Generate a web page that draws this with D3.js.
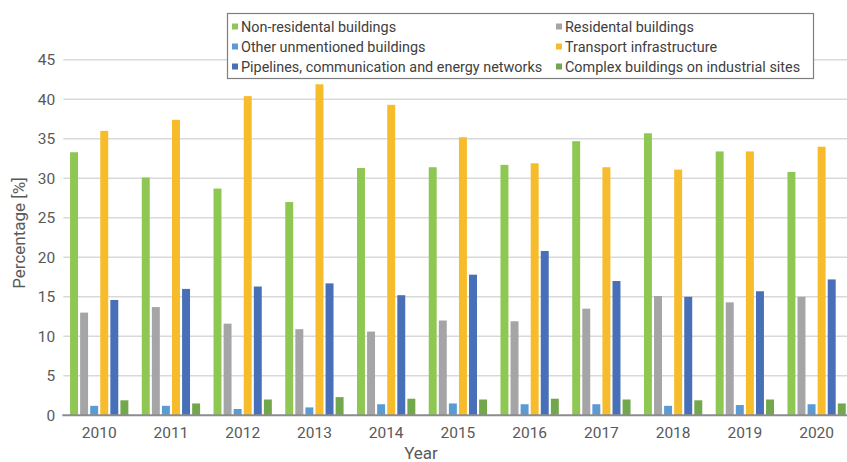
<!DOCTYPE html>
<html>
<head>
<meta charset="utf-8">
<script src="https://cdn.jsdelivr.net/npm/d3@7"></script>
<style>
  html, body { margin: 0; padding: 0; background: #ffffff; }
  svg { display: block; font-family: Roboto, "Noto Sans", sans-serif; }
</style>
</head>
<body>
<svg id="chart" width="847" height="462"></svg>
<script>
// Share of construction output by building type, 2010–2020 (%)
const years = ["2010","2011","2012","2013","2014","2015","2016","2017","2018","2019","2020"];
const seriesNames = [
  "Non-residental buildings",
  "Residental buildings",
  "Other unmentioned buildings",
  "Transport infrastructure",
  "Pipelines, communication and energy networks",
  "Complex buildings on industrial sites"
];
const nonResidential = [33.3, 30.1, 28.7, 27.0, 31.3, 31.4, 31.7, 34.7, 35.7, 33.4, 30.8];
const residential    = [13.0, 13.7, 11.6, 10.9, 10.6, 12.0, 11.9, 13.5, 15.1, 14.3, 15.0];
const otherBuildings = [1.2, 1.2, 0.8, 1.0, 1.4, 1.5, 1.4, 1.4, 1.2, 1.3, 1.4];
const transport      = [36.0, 37.4, 40.4, 41.9, 39.3, 35.2, 31.9, 31.4, 31.1, 33.4, 34.0];
const pipelines      = [14.6, 16.0, 16.3, 16.7, 15.2, 17.8, 20.8, 17.0, 15.0, 15.7, 17.2];
const industrial     = [1.9, 1.5, 2.0, 2.3, 2.1, 2.0, 2.1, 2.0, 1.9, 2.0, 1.5];
const yTicks = [0, 5, 10, 15, 20, 25, 30, 35, 40, 45];
const colors = ["#8fc753", "#a5a5a7", "#5b9bd5", "#f7bc2b", "#4870b8", "#72a84b"];

const seriesValues = [nonResidential, residential, otherBuildings, transport, pipelines, industrial];

const svg = d3.select("#chart");

// plot area (runs slightly past the right edge of the canvas)
const x0 = 63.3, x1 = 852.5, yBase = 415.3, yTop = 59.8;

const x = d3.scaleBand().domain(years).range([x0, x1]).paddingInner(0.187).paddingOuter(0.094);
const xs = d3.scaleBand().domain(d3.range(seriesNames.length)).range([0, x.bandwidth()]).paddingInner(0.21).paddingOuter(0);
const y = d3.scaleLinear().domain([0, 45]).range([yBase, yTop]);

// gridlines
svg.append("g")
  .selectAll("line")
  .data(yTicks.filter(d => d > 0))
  .join("line")
  .attr("x1", x0).attr("x2", 847)
  .attr("y1", d => y(d)).attr("y2", d => y(d))
  .attr("stroke", "#d9d9d9").attr("stroke-width", 1.5);

// y axis labels
const yAxis = d3.axisLeft(y).tickValues(yTicks).tickSize(0).tickPadding(8);
const gy = svg.append("g").attr("transform", `translate(${x0},0)`).call(yAxis);
gy.select(".domain").remove();
gy.selectAll("text").attr("fill", "#595959").style("font-size", "15.5px")
  .style("font-family", "Roboto, 'Noto Sans', sans-serif");

// bars
const groups = svg.append("g")
  .selectAll("g")
  .data(seriesValues)
  .join("g")
  .attr("fill", (d, i) => colors[i]);

groups.each(function(vals, si) {
  d3.select(this).selectAll("rect")
    .data(vals.map((v, yi) => ({ v, year: years[yi] })))
    .join("rect")
    .attr("x", d => x(d.year) + xs(si))
    .attr("width", xs.bandwidth())
    .attr("y", d => y(d.v))
    .attr("height", d => yBase - y(d.v));
});

// x axis baseline and labels
const xAxis = d3.axisBottom(x).tickSize(0).tickPadding(12);
const gx = svg.append("g").attr("transform", `translate(0,${yBase})`).call(xAxis);
gx.select(".domain").remove();
gx.selectAll("text").attr("fill", "#595959").style("font-size", "15.5px")
  .style("font-family", "Roboto, 'Noto Sans', sans-serif");
svg.append("line")
  .attr("x1", x0 - 1).attr("x2", 847)
  .attr("y1", yBase).attr("y2", yBase)
  .attr("stroke", "#8c8c8c").attr("stroke-width", 2);

// axis titles
svg.append("text")
  .attr("transform", "translate(25,233) rotate(-90)")
  .attr("text-anchor", "middle")
  .attr("fill", "#595959")
  .style("font-size", "17px")
  .text("Percentage [%]");
svg.append("text")
  .attr("x", 421).attr("y", 459)
  .attr("text-anchor", "middle")
  .attr("fill", "#595959")
  .style("font-size", "17px")
  .text("Year");

// legend
const legend = svg.append("g");
legend.append("rect")
  .attr("x", 227.5).attr("y", 13.5).attr("width", 586).attr("height", 65)
  .attr("fill", "#ffffff").attr("stroke", "#7f7f7f").attr("stroke-width", 1.2);
const colX = [232, 556];
const rowY = [27, 47, 67];
const items = legend.selectAll("g.item")
  .data(seriesNames)
  .join("g")
  .attr("class", "item")
  .attr("transform", (d, i) => `translate(${colX[i % 2]},${rowY[Math.floor(i / 2)]})`);
items.append("rect")
  .attr("x", 0).attr("y", -3.5).attr("width", 6).attr("height", 6)
  .attr("fill", (d, i) => colors[i]);
items.append("text")
  .attr("x", 9).attr("y", 0).attr("dy", "0.35em")
  .attr("fill", "#404040")
  .style("font-size", "14.4px")
  .text(d => d);
</script>
</body>
</html>
